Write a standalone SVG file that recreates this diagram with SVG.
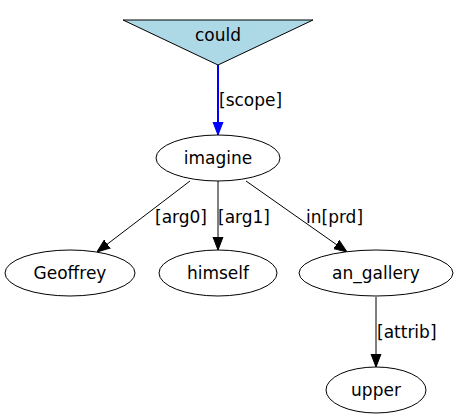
<svg xmlns="http://www.w3.org/2000/svg" width="459" height="420" viewBox="0 0 459 420">
<defs>
<style>
text{font-family:"DejaVu Sans",sans-serif;font-size:17px;fill:#000}
.n{text-anchor:middle}
.node ellipse,.node polygon{stroke:#000;stroke-width:1}
.node ellipse{fill:#fff}
.e{stroke:#000;stroke-width:1;fill:none}
</style>
<marker id="ah" viewBox="0 0 13 12" refX="13" refY="6" markerWidth="13" markerHeight="12" markerUnits="userSpaceOnUse" orient="auto"><path d="M0,1 L13,6 L0,11 Z" fill="#000" stroke="#000"/></marker>
<marker id="ahb" viewBox="0 0 13 12" refX="13" refY="6" markerWidth="13" markerHeight="12" markerUnits="userSpaceOnUse" orient="auto"><path d="M0,1 L13,6 L0,11 Z" fill="#00f" stroke="#00f"/></marker>
</defs>
<rect width="459" height="420" fill="#fff"/>
<g id="connectors">
<line x1="218" y1="65" x2="218" y2="135" stroke="#00f" stroke-width="2" marker-end="url(#ahb)"/>
<text x="219" y="106">[scope]</text>
<line class="e" x1="190" y1="181" x2="97" y2="252" marker-end="url(#ah)"/>
<text x="155" y="223">[arg0]</text>
<line class="e" x1="218" y1="181" x2="218" y2="250" marker-end="url(#ah)"/>
<text x="218" y="223">[arg1]</text>
<line class="e" x1="246" y1="181" x2="347" y2="252" marker-end="url(#ah)"/>
<text x="306" y="223">in[prd]</text>
<line class="e" x1="376" y1="297" x2="376" y2="367" marker-end="url(#ah)"/>
<text x="377" y="338">[attrib]</text>
</g>
<g id="could" class="node"><polygon points="123,20 313,20 218,65" fill="#add8e6"/><text class="n" x="218" y="41">could</text></g>
<g id="imagine" class="node"><ellipse cx="218" cy="158" rx="62" ry="23"/><text class="n" x="218" y="164">imagine</text></g>
<g id="Geoffrey" class="node"><ellipse cx="70" cy="273" rx="65" ry="23"/><text class="n" x="70" y="279">Geoffrey</text></g>
<g id="himself" class="node"><ellipse cx="218" cy="273" rx="59" ry="23"/><text class="n" x="218" y="279">himself</text></g>
<g id="an_gallery" class="node"><ellipse cx="376" cy="273" rx="77" ry="23"/><text class="n" x="376" y="279">an_gallery</text></g>
<g id="upper" class="node"><ellipse cx="376" cy="390" rx="50" ry="23"/><text class="n" x="376" y="396">upper</text></g>
</svg>
